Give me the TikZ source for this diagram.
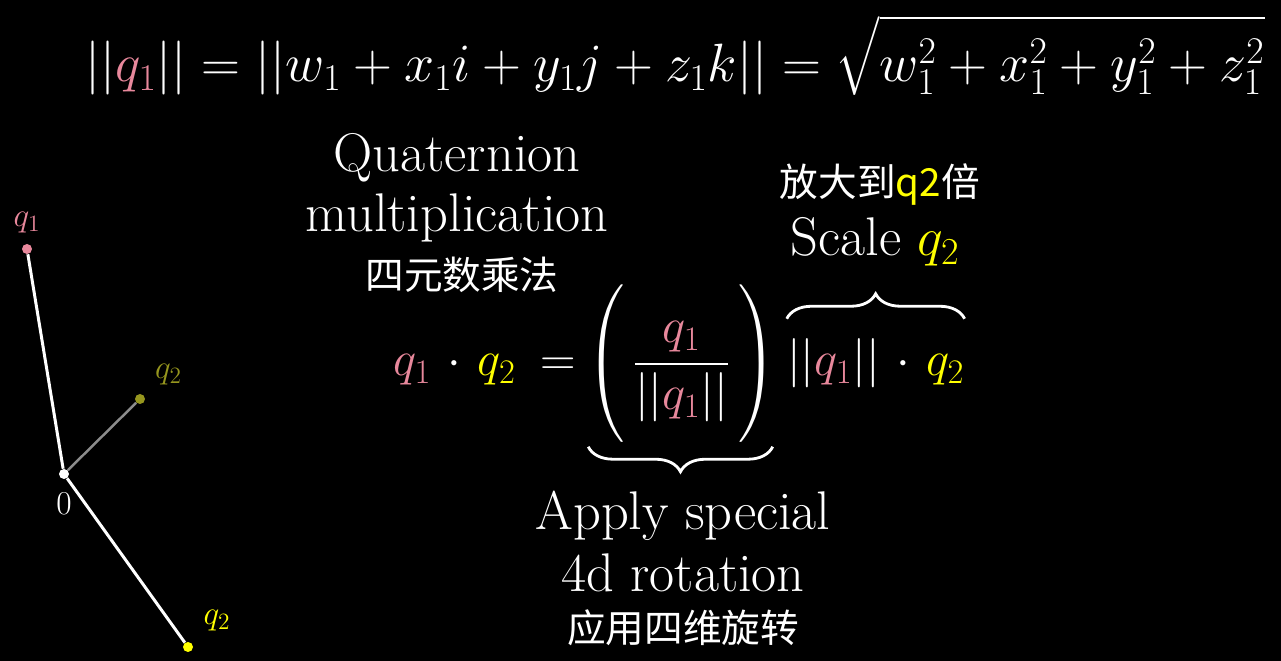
\documentclass[tikz,border=0pt]{standalone}
\usepackage{fix-cm}
\usepackage{amsmath}
\usepackage{fontspec}
\newfontfamily\cjk{Noto Sans CJK SC}
\usetikzlibrary{positioning, calc, decorations.pathreplacing}
\definecolor{qpink}{RGB}{232,136,156}
\definecolor{qyellow}{RGB}{255,255,0}
\definecolor{qolive}{RGB}{150,150,30}
\definecolor{qgray}{RGB}{140,140,140}
\newcommand{\widemath}{\medmuskip=6mu\thickmuskip=6mu}

\begin{document}
\begin{tikzpicture}[
        x=0.02cm, y=-0.02cm,
        big/.style={text=white, inner sep=0pt, font=\fontsize{31}{37}\selectfont},
        eqn/.style={text=white, inner sep=0pt, font=\fontsize{28}{34}\selectfont\widemath},
        top/.style={text=white, inner sep=0pt, font=\fontsize{30.7}{36}\selectfont},
        han/.style={text=white, inner sep=0pt, font=\cjk\fontsize{22}{26}\selectfont},
        small/.style={inner sep=0pt, font=\fontsize{19}{23}\selectfont},
        dot/.style={circle, inner sep=0pt, minimum size=0.2cm},
        vec/.style={white, line width=1.7pt},
        brace/.style={white, line width=1.6pt, decorate, decoration={brace, amplitude=0.5cm}},
        ubrace/.style={brace, decoration={mirror}}
    ]
    \fill[black] (0,0) rectangle (1281,661);
    \clip (0,0) rectangle (1281,661);

    % norm of q1
    \node[top, anchor=base west] (norm) at (85,82)
        {$||{\color{qpink}q_1}|| = ||w_1 + x_1 i + y_1 j + z_1 k|| = \sqrt{\rule{0pt}{1.12em}w_1^2 + x_1^2 + y_1^2 + z_1^2}$};

    % vectors on the left
    \node[dot, fill=white] (o) at (64,474) {};
    \node[dot, fill=qpink] (p) at (27,249) {};
    \node[dot, fill=qolive] (r) at (140,399) {};
    \node[dot, fill=qyellow] (s) at (188,647) {};
    \draw[vec] (o) -- (p);
    \draw[vec] (o) -- (s);
    \draw[qgray, line width=1.4pt] (o) -- (r);
    \node[small, text=qpink, above=0.2cm of p] (pl) {$q_1$};
    \node[small, text=white, below=0.26cm of o] (ol) {$0$};
    \node[small, text=qolive, above right=0.2cm and 0.22cm of r] (rl) {$q_2$};
    \node[small, text=qyellow, above right=0.23cm and 0.23cm of s] (sl) {$q_2$};

    % title
    \node[big, anchor=base] (quat) at (457,172) {Quaternion};
    \node[big, anchor=base] (mult) at (457,232) {multiplication};
    \node[han] (multzh) at (462,275) {四元数乘法};

    % product
    \node[eqn, anchor=base west] (lhs) at (393,376) {$\thickmuskip=9mu {\color{qpink}q_1}\cdot{\color{qyellow}q_2} =$};
    \node[eqn, base right=0.2cm of lhs] (rot) {$\Biggl(\,\dfrac{\color{qpink}q_1}{||{\color{qpink}q_1}||}\,\Biggr)$};
    \node[eqn, base right=0.2cm of rot] (scl) {$||{\color{qpink}q_1}||\cdot{\color{qyellow}q_2}$};

    \draw[ubrace] ($(rot.south west)+(2,4)$) -- ($(rot.south east)+(-4,4)$);
    \draw[brace] ($(scl.north west)+(0,-20)$) -- ($(scl.north east)+(0,-20)$);

    % labels of the braces
    \node[big, anchor=base] (apply) at (683,530) {Apply special};
    \node[big, anchor=base] (rot4) at (683,592) {4d rotation};
    \node[han] (rotzh) at (683,628) {应用四维旋转};
    \node[han] (sclzh) at (880,185) {放大到{\color{qyellow}q2}倍};
    \node[big, anchor=base] (sclen) at (875,256) {Scale ${\color{qyellow}q_2}$};
\end{tikzpicture}
\end{document}
